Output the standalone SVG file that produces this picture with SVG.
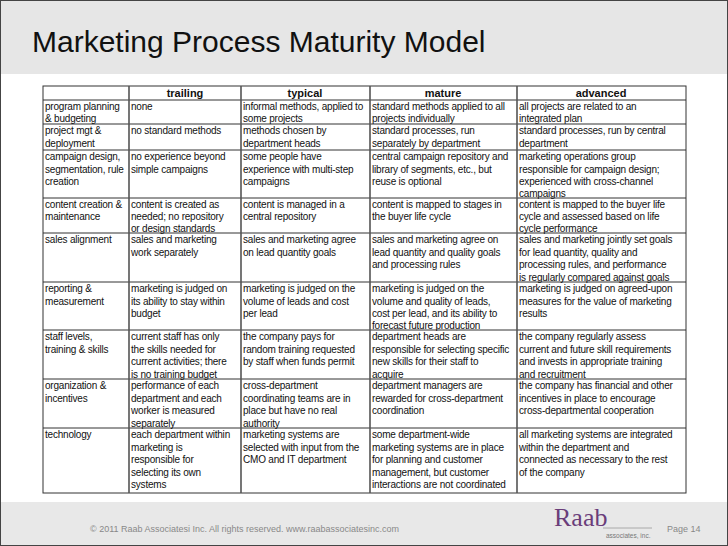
<svg xmlns="http://www.w3.org/2000/svg" width="728" height="546" viewBox="0 0 728 546">
<style>
text{font-family:"Liberation Sans",Arial,sans-serif;fill:#111}
.c{font-size:10px;letter-spacing:-0.2px}
.h{font-size:11px;font-weight:bold;text-anchor:middle}
.g{stroke:#333;stroke-width:1;fill:none}
.v{stroke:#555;stroke-width:1.6}
</style>
<rect width="728" height="546" fill="#fff"/>
<rect x="0" y="0" width="728" height="74" fill="#e6e6e6"/>
<rect x="0" y="502" width="728" height="44" fill="#e8e8e8"/>
<rect x="0.5" y="0.5" width="727" height="545" fill="none" stroke="#444" stroke-width="1"/>
<text x="32" y="52" font-size="30" fill="#111">Marketing Process Maturity Model</text>
<g id="grid">
<rect class="g" x="43" y="86" width="643" height="407"/>
<path class="g" d="M43 100H686M43 124H686M43 150H686M43 198H686M43 233H686M43 282H686M43 330H686M43 379H686M43 428H686"/>
<path class="v" d="M129 86V493M241 86V493M370 86V493M517 86V493"/>
</g>
<g id="header">
<text class="h" x="185" y="97">trailing</text>
<text class="h" x="305" y="97">typical</text>
<text class="h" x="443" y="97">mature</text>
<text class="h" x="601" y="97">advanced</text>
</g>
<g id="r1" class="c">
<text x="45" y="110">program planning</text><text x="45" y="122">&amp; budgeting</text>
<text x="131" y="110">none</text>
<text x="243" y="110">informal methods, applied to</text><text x="243" y="122">some projects</text>
<text x="372" y="110">standard methods applied to all</text><text x="372" y="122">projects individually</text>
<text x="519" y="110">all projects are related to an</text><text x="519" y="122">integrated plan</text>
</g>
<g id="r2" class="c">
<text x="45" y="134">project mgt  &amp;</text><text x="45" y="146.5">deployment</text>
<text x="131" y="134">no standard methods</text>
<text x="243" y="134">methods chosen by</text><text x="243" y="146.5">department heads</text>
<text x="372" y="134">standard processes, run</text><text x="372" y="146.5">separately by department</text>
<text x="519" y="134">standard processes, run by central</text><text x="519" y="146.5">department</text>
</g>
<g id="r3" class="c">
<text x="45" y="160">campaign design,</text><text x="45" y="172.5">segmentation, rule</text><text x="45" y="185">creation</text>
<text x="131" y="160">no experience beyond</text><text x="131" y="172.5">simple campaigns</text>
<text x="243" y="160">some people have</text><text x="243" y="172.5">experience with multi-step</text><text x="243" y="185">campaigns</text>
<text x="372" y="160">central campaign repository and</text><text x="372" y="172.5">library of segments, etc., but</text><text x="372" y="185">reuse is optional</text>
<text x="519" y="160">marketing operations group</text><text x="519" y="172.5">responsible for campaign design;</text><text x="519" y="185">experienced with cross-channel</text><text x="519" y="197">campaigns</text>
</g>
<g id="r4" class="c">
<text x="45" y="208">content creation &amp;</text><text x="45" y="220">maintenance</text>
<text x="131" y="208">content is created as</text><text x="131" y="220">needed; no repository</text><text x="131" y="232">or design standards</text>
<text x="243" y="208">content is managed in a</text><text x="243" y="220">central repository</text>
<text x="372" y="208">content is mapped to stages in</text><text x="372" y="220">the buyer life cycle</text>
<text x="519" y="208">content is mapped to the buyer life</text><text x="519" y="220">cycle and assessed based on life</text><text x="519" y="232">cycle performance</text>
</g>
<g id="r5" class="c">
<text x="45" y="243">sales alignment</text>
<text x="131" y="243">sales and marketing</text><text x="131" y="255.5">work separately</text>
<text x="243" y="243">sales and marketing agree</text><text x="243" y="255.5">on lead quantity goals</text>
<text x="372" y="243">sales and marketing agree on</text><text x="372" y="255.5">lead quantity and quality goals</text><text x="372" y="268">and processing rules</text>
<text x="519" y="243">sales and marketing jointly set goals</text><text x="519" y="255.5">for lead quantity, quality and</text><text x="519" y="268">processing rules, and performance</text><text x="519" y="280.5">is regularly compared against goals</text>
</g>
<g id="r6" class="c">
<text x="45" y="292">reporting &amp;</text><text x="45" y="304.5">measurement</text>
<text x="131" y="292">marketing is judged on</text><text x="131" y="304.5">its ability to stay within</text><text x="131" y="317">budget</text>
<text x="243" y="292">marketing is judged on the</text><text x="243" y="304.5">volume of leads and cost</text><text x="243" y="317">per lead</text>
<text x="372" y="292">marketing is judged on the</text><text x="372" y="304.5">volume and quality of leads,</text><text x="372" y="317">cost per lead, and its ability to</text><text x="372" y="329">forecast future production</text>
<text x="519" y="292">marketing is judged on agreed-upon</text><text x="519" y="304.5">measures for the value of marketing</text><text x="519" y="317">results</text>
</g>
<g id="r7" class="c">
<text x="45" y="340">staff levels,</text><text x="45" y="352.5">training &amp; skills</text>
<text x="131" y="340">current staff has only</text><text x="131" y="352.5">the skills needed for</text><text x="131" y="365">current activities; there</text><text x="131" y="377.5">is no training budget</text>
<text x="243" y="340">the company pays for</text><text x="243" y="352.5">random training requested</text><text x="243" y="365">by staff when funds permit</text>
<text x="372" y="340">department heads are</text><text x="372" y="352.5">responsible for selecting specific</text><text x="372" y="365">new skills for their staff to</text><text x="372" y="377.5">acquire</text>
<text x="519" y="340">the company regularly assess</text><text x="519" y="352.5">current and future skill requirements</text><text x="519" y="365">and invests in appropriate training</text><text x="519" y="377.5">and recruitment</text>
</g>
<g id="r8" class="c">
<text x="45" y="389">organization &amp;</text><text x="45" y="401.5">incentives</text>
<text x="131" y="389">performance of each</text><text x="131" y="401.5">department and each</text><text x="131" y="414">worker is measured</text><text x="131" y="426.5">separately</text>
<text x="243" y="389">cross-department</text><text x="243" y="401.5">coordinating teams are in</text><text x="243" y="414">place but have no real</text><text x="243" y="426.5">authority</text>
<text x="372" y="389">department managers are</text><text x="372" y="401.5">rewarded for cross-department</text><text x="372" y="414">coordination</text>
<text x="519" y="389">the company has financial and other</text><text x="519" y="401.5">incentives in place to encourage</text><text x="519" y="414">cross-departmental cooperation</text>
</g>
<g id="r9" class="c">
<text x="45" y="438">technology</text>
<text x="131" y="438">each department within</text><text x="131" y="450.5">marketing is</text><text x="131" y="463">responsible for</text><text x="131" y="475.5">selecting its own</text><text x="131" y="488">systems</text>
<text x="243" y="438">marketing systems are</text><text x="243" y="450.5">selected with input from the</text><text x="243" y="463">CMO and IT department</text>
<text x="372" y="438">some department-wide</text><text x="372" y="450.5">marketing systems are in place</text><text x="372" y="463">for planning and customer</text><text x="372" y="475.5">management, but customer</text><text x="372" y="488">interactions are not coordinated</text>
<text x="519" y="438">all marketing systems are integrated</text><text x="519" y="450.5">within the department and</text><text x="519" y="463">connected as necessary to the rest</text><text x="519" y="475.5">of the company</text>
</g>
<g id="footer">
<text x="90" y="532" font-size="9" style="fill:#888">© 2011 Raab Associatesi Inc.  All rights reserved.  www.raabassociatesinc.com</text>
<text x="554" y="526" font-size="26" style="font-family:'Liberation Serif',serif;fill:#6a3d7a">Raab</text>
<line x1="603" y1="528" x2="652" y2="528" stroke="#999" stroke-width="0.8"/>
<text x="606" y="538" font-size="6.5" style="fill:#777">associates, inc.</text>
<text x="667" y="532" font-size="9" style="fill:#888">Page 14</text>
</g>
</svg>
